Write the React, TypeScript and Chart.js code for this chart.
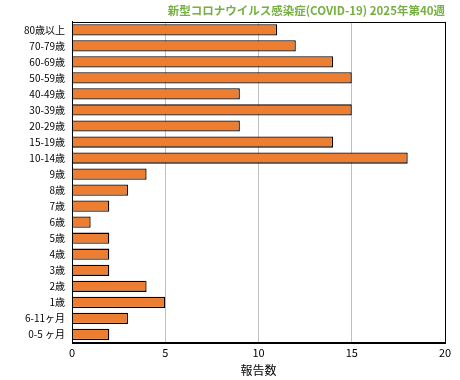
import React, { useEffect, useRef } from "react";
import { Chart, registerables } from "chart.js";

Chart.register(...registerables);

const categories = [
  "80歳以上", "70-79歳", "60-69歳", "50-59歳", "40-49歳", "30-39歳", "20-29歳",
  "15-19歳", "10-14歳", "9歳", "8歳", "7歳", "6歳", "5歳", "4歳", "3歳", "2歳",
  "1歳", "6-11ヶ月", "0-5 ヶ月",
];
const reports = [11, 12, 14, 15, 9, 15, 9, 14, 18, 4, 3, 2, 1, 2, 2, 2, 4, 5, 3, 2];
const titleText = "新型コロナウイルス感染症(COVID-19) 2025年第40週";
const xAxisTitle = "報告数";

const FONT = "'Noto Sans CJK JP', 'DejaVu Sans', sans-serif";

const frame = {
  id: "frame",
  afterDraw(chart: any) {
    const { ctx, chartArea } = chart;
    ctx.save();
    ctx.strokeStyle = "#000";
    ctx.lineWidth = 1;
    ctx.strokeRect(
      Math.round(chartArea.left) + 0.5,
      Math.round(chartArea.top) + 0.5,
      Math.round(chartArea.right - chartArea.left),
      Math.round(chartArea.bottom - chartArea.top)
    );
    ctx.restore();
  },
};

export default function App() {
  const ref = useRef<HTMLCanvasElement>(null);
  useEffect(() => {
    document.body.style.margin = "0";
    const chart = new Chart(ref.current!, {
      type: "bar",
      data: {
        labels: categories,
        datasets: [
          {
            data: reports,
            backgroundColor: "#ED7D31",
            borderColor: "#000",
            borderWidth: 1.3,
            barPercentage: 0.7,
            categoryPercentage: 1,
          },
        ],
      },
      options: {
        indexAxis: "y",
        animation: false,
        responsive: false,
        layout: { padding: { left: 0, right: 15, top: 0, bottom: 2 } },
        plugins: {
          legend: { display: false },
          tooltip: { enabled: false },
          title: {
            display: true,
            text: titleText,
            align: "end",
            color: "#76B041",
            font: { family: FONT, size: 11.5, weight: "bold" },
            padding: { top: 4, bottom: 4 },
          },
        },
        scales: {
          x: {
            min: 0,
            max: 20,
            ticks: { stepSize: 5, color: "#000", font: { family: FONT, size: 11 }, padding: 4 },
            grid: { color: "#c0c0c0", drawTicks: false },
            border: { color: "#000" },
            title: {
              display: true,
              text: xAxisTitle,
              color: "#000",
              font: { family: FONT, size: 12 },
              padding: { top: 0, bottom: 0 },
            },
          },
          y: {
            ticks: { color: "#000", font: { family: FONT, size: 10 }, padding: 7, autoSkip: false },
            grid: { display: false, drawTicks: false },
            border: { color: "#000" },
            afterFit(scale: any) {
              scale.width = 72;
            },
          },
        },
      },
      plugins: [frame],
    });
    return () => chart.destroy();
  }, []);
  return (
    <div style={{ width: 460, height: 380 }}>
      <canvas ref={ref} width={460} height={380} style={{ display: "block" }} />
    </div>
  );
}
